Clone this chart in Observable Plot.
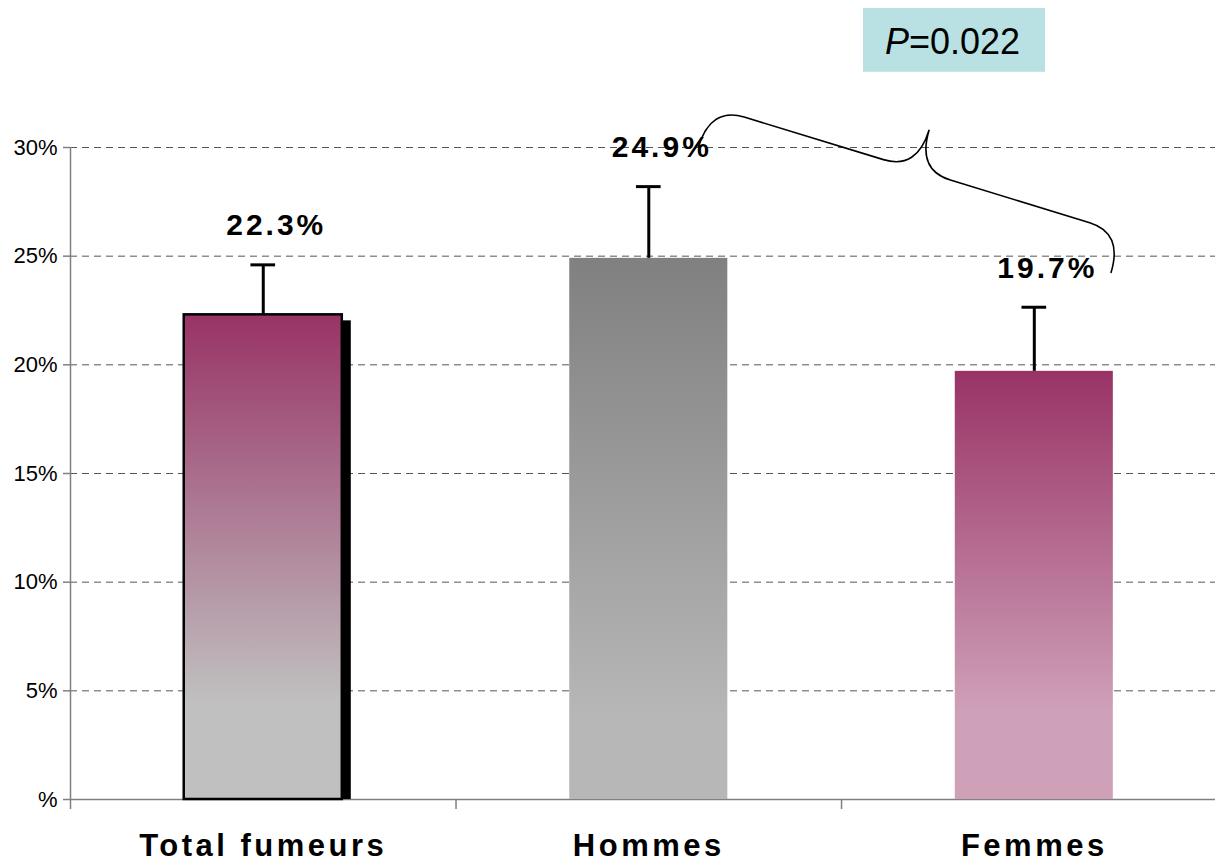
<!DOCTYPE html>
<html>
<head>
<meta charset="utf-8">
<script src="https://cdn.jsdelivr.net/npm/d3@7"></script>
<script src="https://cdn.jsdelivr.net/npm/@observablehq/plot@0.6"></script>
<style>
  html, body { margin: 0; padding: 0; background: #fff; }
  svg { display: block; }
</style>
</head>
<body>
<div id="chart"></div>
<script>
// ---- data ----
const categories = ["Total fumeurs", "Hommes", "Femmes"];
const values = [22.3, 24.9, 19.7];          // % prevalence
const upperError = [24.6, 28.2, 22.65];     // top of error bar (%)
const yTicks = [0, 5, 10, 15, 20, 25, 30];
const pValueText = "=0.022";

const data = categories.map((c, i) => ({
  cat: c, i, v: values[i], hi: upperError[i], label: values[i].toFixed(1) + "%"
}));

const gradients = [
  {id: "grad0", top: "#993366", bottom: "#c0c0c0", end: 0.8},
  {id: "grad1", top: "#808080", bottom: "#b7b7b7", end: 0.85},
  {id: "grad2", top: "#993366", bottom: "#cfa1b8", end: 0.8}
];

const font = "'Liberation Sans', Arial, Helvetica, sans-serif";
const half = 0.205;
const tickFmt = d => d === 0 ? "%" : d + "%";

// curly brace between two data points, built in pixel space from the scales
function brace(from, to, depth, r) {
  return (index, scales) => {
    const ax = scales.x(from.x), ay = scales.y(from.y);
    const bx = scales.x(to.x), by = scales.y(to.y);
    const L = Math.hypot(bx - ax, by - ay);
    const ux = (bx - ax) / L, uy = (by - ay) / L;
    const nx = uy, ny = -ux;
    const P = (s, t) => `${ax + s * ux + t * nx},${ay + s * uy + t * ny}`;
    const w = depth, m = L / 2;
    const d = `M${P(0, 0)} Q${P(0, w)} ${P(r, w)} L${P(m - r, w)} Q${P(m, w)} ${P(m, 2 * w)} ` +
              `Q${P(m, w)} ${P(m + r, w)} L${P(L - r, w)} Q${P(L, w)} ${P(L, 0)}`;
    return d3.create("svg:path").attr("d", d).attr("fill", "none")
      .attr("stroke", "black").attr("stroke-width", 1.6).node();
  };
}

const chart = Plot.plot({
  width: 1215,
  height: 863,
  marginLeft: 70,
  marginRight: 0,
  marginTop: 147,
  marginBottom: 64,
  style: {fontFamily: font, fontSize: "22px", color: "#000", background: "#fff", overflow: "visible"},
  x: {type: "linear", domain: [0, 2.97], axis: null},
  y: {
    domain: [0, 30],
    ticks: yTicks,
    tickFormat: tickFmt,
    tickSize: 7,
    tickPadding: 6,
    label: null
  },
  marks: [
    Plot.ruleY(yTicks.filter(t => t > 0), {stroke: "#555", strokeDasharray: "7,5", strokeWidth: 1}),
    Plot.ruleY([0], {stroke: "#808080", strokeWidth: 1.5}),
    Plot.ruleX([1, 2], {y1: 0, y2: -0.46, stroke: "#808080", strokeWidth: 1.5}),
    Plot.ruleX([0], {y1: -0.46, y2: 30, stroke: "#808080", strokeWidth: 1.5}),
    // shadow on first bar
    Plot.rect(data.filter(d => d.i === 0), {
      x1: d => d.i + 0.5 - half, x2: d => d.i + 0.5 + half, y1: 0, y2: "v",
      fill: "black", dx: 9, insetTop: 6
    }),
    ...data.map(d => Plot.rect([d], {
      x1: e => e.i + 0.5 - half, x2: e => e.i + 0.5 + half, y1: 0, y2: "v",
      fill: `url(#grad${d.i})`,
      stroke: d.i === 0 ? "black" : "none", strokeWidth: 2.5
    })),
    // error bars
    Plot.ruleX(data, {x: d => d.i + 0.5, y1: "v", y2: "hi", stroke: "black", strokeWidth: 3}),
    Plot.ruleY(data, {y: "hi", x1: d => d.i + 0.5 - 0.032, x2: d => d.i + 0.5 + 0.032, stroke: "black", strokeWidth: 3}),
    // value labels
    Plot.text(data, {
      x: d => d.i + 0.5, y: d => d.hi + 1.8, text: "label", dx: 13,
      fontSize: 30, fontWeight: "bold", fill: "black"
    }),
    // category labels
    Plot.text(data, {
      x: d => d.i + 0.5, y: 0, dy: 47, text: "cat",
      fontSize: 31, fontWeight: "bold", fill: "black"
    }),
    // brace between Hommes and Femmes
    brace({x: 1.63, y: 30}, {x: 2.70, y: 24.2}, 42, 35),
    // P-value box
    Plot.rect([0], {x1: 2.057, x2: 2.529, y1: 33.46, y2: 36.4, fill: "#b9e0e3"}),
    Plot.text(["P"], {x: 2.175, y: 34.81, text: d => d, textAnchor: "end", fontSize: 36, fontStyle: "italic", fill: "black"}),
    Plot.text([pValueText], {x: 2.175, y: 34.81, text: d => d, textAnchor: "start", fontSize: 36, fill: "black"})
  ]
});

// gradients
const defs = d3.select(chart).insert("defs", ":first-child");
gradients.forEach(g => {
  const lg = defs.append("linearGradient").attr("id", g.id)
    .attr("x1", 0).attr("y1", 0).attr("x2", 0).attr("y2", 1);
  lg.append("stop").attr("offset", 0).attr("stop-color", g.top);
  lg.append("stop").attr("offset", g.end).attr("stop-color", g.bottom);
  lg.append("stop").attr("offset", 1).attr("stop-color", g.bottom);
});

// styling tweaks by text content
const tickLabels = new Set(yTicks.map(tickFmt));
const catLabels = new Set(categories);
const valLabels = new Set(data.map(d => d.label));
d3.select(chart).selectAll("text").each(function() {
  const t = this.textContent;
  const s = d3.select(this);
  if (catLabels.has(t)) s.style("letter-spacing", "3.5px");
  else if (valLabels.has(t)) s.style("letter-spacing", "3px");
  else if (tickLabels.has(t)) s.style("font-size", "22px").style("font-family", font).attr("fill", "black");
});
d3.select(chart).selectAll('[aria-label*="y-axis"] line, [aria-label*="y-axis"] path')
  .attr("stroke", "#808080").attr("stroke-width", 1.5);

document.getElementById("chart").appendChild(chart);
</script>
</body>
</html>
